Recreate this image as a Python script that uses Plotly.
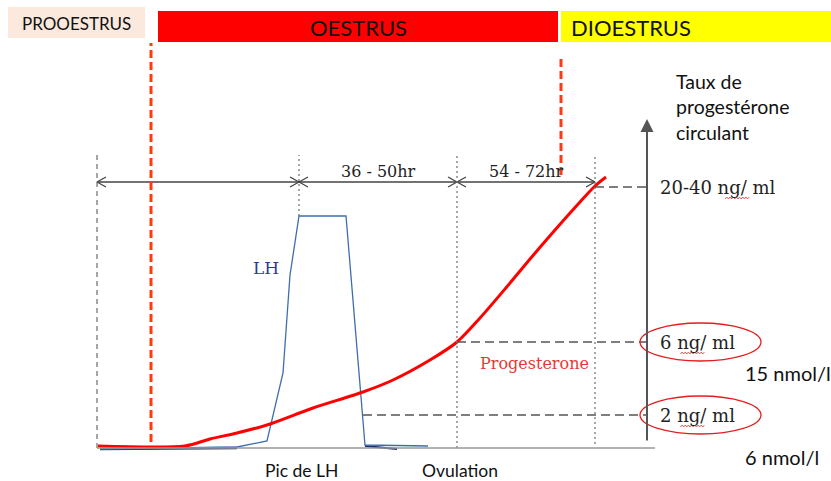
import plotly.graph_objects as go

# ---------------------------------------------------------------------------
# Schematic data (x: time along the cycle, y: hormone level, 0 = baseline)
# ---------------------------------------------------------------------------
phase_names = ["PROOESTRUS", "OESTRUS", "DIOESTRUS"]
phase_start = [8, 158, 561]
phase_end = [145, 558, 831]

# time markers: start, LH peak, ovulation, end of oocyte maturation
time_marks = [97, 299, 457, 595]
interval_labels = ["", "36 - 50hr", "54 - 72hr"]

# phase limits drawn as dashed red lines
phase_limits = [151, 561]

# LH surge
lh_x = [100, 237, 267, 283, 290, 299, 346, 360, 365, 428]
lh_y = [-1, 1, 7, 75, 173, 232, 232, 68, 3, 2]
lh_base_x = [100, 237]
lh_base_y = [-1, 0]
lh_tail_x = [365, 397]
lh_tail_y = [2, -1]

# circulating progesterone
prog_x = [98, 185, 210, 237, 267, 313, 363, 393, 430, 457, 480, 505, 530, 555, 580, 595, 606]
prog_y = [2, 2, 9, 15, 23, 40, 56, 68, 88, 106, 130, 159, 189, 218, 246, 262, 271]

# progesterone reference levels
level_labels = ["20-40 ng/ ml", "6 ng/ ml", "2 ng/ ml"]
level_y = [261, 106, 33]
level_from = [595, 457, 363]
circled = [False, True, True]

nmol_labels = ["15 nmol/l", "6 nmol/l"]
nmol_y = [75, -9]

event_labels = ["Pic de LH", "Ovulation"]
event_x = [301, 460]

# ---------------------------------------------------------------------------
AXIS_X = 647
BASE_Y = 0
ARROW_Y = 266
SANS = "Lato, 'Open Sans', sans-serif"
SERIF = "'DejaVu Serif', serif"

fig = go.Figure()
shapes = []
annotations = []

# phase bands
band_fill = ["#fce9dd", "#ff0000", "#ffff00"]
band_top = [441, 437, 437]
band_bot = [410, 406, 406]
for name, x0, x1, c, yt, yb in zip(phase_names, phase_start, phase_end, band_fill, band_top, band_bot):
    shapes.append(dict(type="rect", xref="x", yref="y", x0=x0, x1=x1, y0=yb, y1=yt,
                       fillcolor=c, line=dict(width=0), layer="below"))
annotations.append(dict(x=(phase_start[0] + phase_end[0]) / 2, y=425, text=phase_names[0],
                        showarrow=False, font=dict(family=SANS, size=17, color="#111")))
annotations.append(dict(x=(phase_start[1] + phase_end[1]) / 2, y=421, text=phase_names[1],
                        showarrow=False, font=dict(family=SANS, size=22, color="#111")))
annotations.append(dict(x=phase_start[2] + 8, y=421, text=phase_names[2], xanchor="left",
                        showarrow=False, font=dict(family=SANS, size=22, color="#111")))

# time marker verticals
mark_top = ARROW_Y + 27
mark_bottom = [BASE_Y, 232, BASE_Y, 4]
mark_dash = ["5px,4px", "2px,3px", "2px,3px", "2px,3px"]
for x, yb, d in zip(time_marks, mark_bottom, mark_dash):
    shapes.append(dict(type="line", xref="x", yref="y", x0=x, x1=x, y0=yb, y1=mark_top,
                       line=dict(color="#777", width=1.3, dash=d)))

# baseline
shapes.append(dict(type="line", xref="x", yref="y", x0=time_marks[0], x1=AXIS_X + 8,
                   y0=BASE_Y, y1=BASE_Y, line=dict(color="#999", width=1.5)))

# reference level dashes, labels and circles
label_x = AXIS_X + 11
for lab, y, x0, circ in zip(level_labels, level_y, level_from, circled):
    shapes.append(dict(type="line", xref="x", yref="y", x0=x0, x1=AXIS_X, y0=y, y1=y,
                       line=dict(color="#555", width=1.6, dash="9px,5px")))
    annotations.append(dict(x=label_x, y=y, text=lab, xanchor="left", showarrow=False,
                            font=dict(family=SERIF, size=18, color="#222")))
    if circ:
        shapes.append(dict(type="circle", xref="x", yref="y", x0=AXIS_X - 7, x1=AXIS_X + 114,
                           y0=y - 19, y1=y + 19, line=dict(color="#e41e1e", width=1.3)))
    # spell-check squiggle under "ng"
    ng_start = label_x + (len(lab.split(" ")[0]) + 1) * 11.2
    zx = [ng_start + i * 1.6 for i in range(16)]
    zy = [y - 11 + (1 if i % 2 else -1) for i in range(16)]
    fig.add_trace(go.Scatter(x=zx, y=zy, mode="lines",
                             line=dict(color="#e03a3a", width=0.8), hoverinfo="skip"))

# phase limits (dashed red)
limit_y0 = [6, 273]
limit_y1 = [405, 393]
for x, y0, y1 in zip(phase_limits, limit_y0, limit_y1):
    shapes.append(dict(type="line", xref="x", yref="y", x0=x, x1=x, y0=y0, y1=y1,
                       line=dict(color="#ff3a10", width=3, dash="8px,4px")))

# interval double arrows
for a, b, lab in zip(time_marks[:-1], time_marks[1:], interval_labels):
    fig.add_trace(go.Scatter(x=[a, b], y=[ARROW_Y, ARROW_Y], mode="lines",
                             line=dict(color="#444", width=1.3), hoverinfo="skip"))
    for tip, s in ((a, 1), (b, -1)):
        fig.add_trace(go.Scatter(x=[tip + s * 9, tip, tip + s * 9],
                                 y=[ARROW_Y + 5, ARROW_Y, ARROW_Y - 5], mode="lines",
                                 line=dict(color="#444", width=1.3), hoverinfo="skip"))
    if lab:
        annotations.append(dict(x=(a + b) / 2, y=ARROW_Y + 11, text=lab, showarrow=False,
                                font=dict(family=SERIF, size=16, color="#222")))

# LH curve
fig.add_trace(go.Scatter(x=lh_base_x, y=lh_base_y, mode="lines",
                         line=dict(color="#1f2f6e", width=2.6), hoverinfo="skip"))
fig.add_trace(go.Scatter(x=lh_tail_x, y=lh_tail_y, mode="lines",
                         line=dict(color="#1f2f6e", width=2.2), hoverinfo="skip"))
fig.add_trace(go.Scatter(x=lh_x, y=lh_y, mode="lines",
                         line=dict(color="#3d6db0", width=1.3), hoverinfo="skip"))

# progesterone curve
fig.add_trace(go.Scatter(x=prog_x, y=prog_y, mode="lines",
                         line=dict(color="#ff0000", width=3, shape="spline", smoothing=0.8),
                         hoverinfo="skip"))

# vertical axis with arrow
annotations.append(dict(x=AXIS_X, y=329, ax=AXIS_X, ay=6, xref="x", yref="y",
                        axref="x", ayref="y", text="", showarrow=True, arrowhead=2,
                        arrowsize=1.3, arrowwidth=2, arrowcolor="#555"))
annotations.append(dict(x=674, y=380, text="Taux de<br>progestérone<br>circulant",
                        xanchor="left", yanchor="top", align="left", showarrow=False,
                        font=dict(family=SANS, size=19.5, color="#111")))

# curve names
annotations.append(dict(x=266, y=180, text="LH", showarrow=False,
                        font=dict(family=SERIF, size=17, color="#2e3b8c")))
annotations.append(dict(x=534, y=85, text="Progesterone", showarrow=False,
                        font=dict(family=SERIF, size=16, color="#e53935")))

# nmol equivalents
for lab, y in zip(nmol_labels, nmol_y):
    annotations.append(dict(x=743, y=y, text=lab, xanchor="left", showarrow=False,
                            font=dict(family=SANS, size=20, color="#111")))

# events
for lab, x in zip(event_labels, event_x):
    annotations.append(dict(x=x, y=-22, text=lab, showarrow=False,
                            font=dict(family=SANS, size=17.5, color="#111")))

fig.update_layout(
    width=831, height=481, autosize=False,
    margin=dict(l=0, r=0, t=0, b=0),
    paper_bgcolor="white", plot_bgcolor="white",
    showlegend=False,
    xaxis=dict(range=[0, 831], visible=False, fixedrange=True),
    yaxis=dict(range=[-33, 448], visible=False, fixedrange=True),
    shapes=shapes, annotations=annotations,
)

fig.write_html("out.html")
